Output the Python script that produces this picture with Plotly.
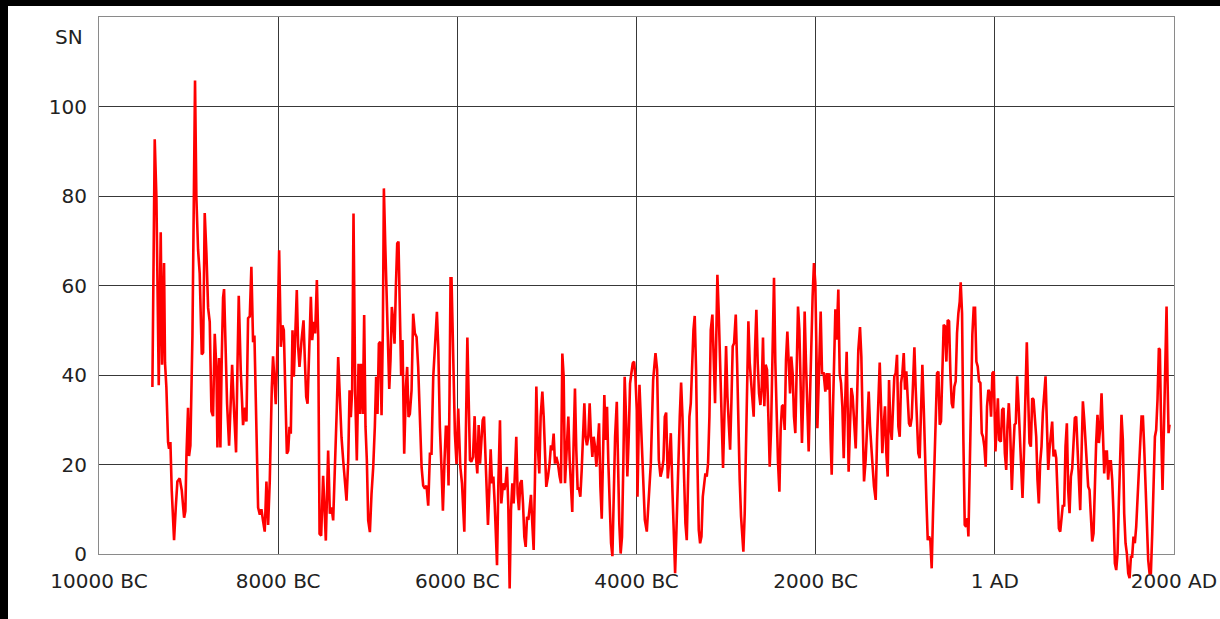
import plotly.graph_objects as go

# ---- data (year: negative = BC, SN = reconstructed sunspot number) ----
years_a = [-9404, -9378, -9359, -9341, -9333, -9311, -9296, -9274, -9263, -9248, -9229, -9218, -9203, -9188,
           -9162, -9143, -9125, -9099, -9076, -9050, -9036, -9024, -9006, -8995, -8980, -8957, -8939, -8928,
           -8913, -8894, -8876, -8853, -8838, -8820, -8801, -8782, -8764, -8745, -8727, -8708, -8689, -8678,
           -8660, -8645, -8630, -8615, -8604, -8585, -8570, -8548, -8529, -8514, -8496, -8470, -8455, -8440,
           -8418, -8392, -8369, -8354, -8336, -8317, -8299, -8280, -8265, -8243, -8224, -8205, -8187, -8168,
           -8150, -8131, -8112, -8094, -8083, -8071, -8057, -8042, -8027, -8012]
sn_a = [37.3, 92.7, 79.6, 56.5, 37.7, 71.9, 42.3, 65, 42.7, 37.3, 25, 23.5, 25, 14.2,
        3.1, 10.4, 16.2, 16.9, 14.2, 8.1, 9.6, 21.9, 32.7, 21.9, 24.2, 48.8, 79.6, 105.8,
        79.6, 68, 62.7, 44.6, 45, 76.2, 67.3, 55, 51.9, 31.9, 30.8, 49.2, 41.2, 23.8,
        43.8, 23.8, 43.5, 57.3, 59.2, 41.9, 33.5, 24.2, 37.3, 42.3, 33.5, 22.7, 41.2, 57.7,
        41.2, 28.8, 32.7, 29.6, 52.7, 53.1, 64.2, 47.3, 48.8, 29.6, 10.4, 8.8, 10, 7.3,
        5, 16.2, 6.5, 16.2, 31.2, 37.3, 44.2, 39.6, 33.5, 43.5]

years_b = [-7989, -7970, -7952, -7937, -7918, -7903, -7888, -7873, -7859, -7840, -7825, -7806, -7792, -7777,
           -7762, -7739, -7717, -7702, -7687, -7672, -7654, -7635, -7620, -7602, -7587, -7568, -7553, -7538,
           -7520, -7498, -7468, -7442, -7423, -7404, -7386, -7360, -7345, -7330, -7311, -7293, -7274, -7256,
           -7237, -7218, -7203, -7189, -7174, -7159, -7140, -7122, -7103, -7088, -7073, -7055, -7040, -7025,
           -7010, -6995, -6976, -6958, -6939, -6921, -6906, -6891, -6876, -6861, -6846, -6831, -6820, -6805,
           -6790, -6775, -6760, -6746, -6731, -6716, -6701, -6686, -6671, -6657, -6642, -6627, -6612, -6593,
           -6574, -6560, -6545, -6530, -6511, -6493, -6474, -6455, -6437, -6418, -6399, -6381, -6362, -6344,
           -6325, -6306, -6288, -6269, -6251, -6228, -6213, -6195, -6176, -6161, -6143, -6128, -6113, -6098,
           -6087, -6076, -6065, -6046, -6027, -6009, -5990]
sn_b = [67.9, 46.3, 51.1, 50, 35.8, 22.4, 23.1, 28.4, 26.9, 50, 39.6, 50, 59, 46.3,
        41.8, 47.8, 52.2, 43.3, 35.1, 33.6, 43.3, 57.5, 47.8, 51.9, 49.3, 61.2, 48.5, 4.5,
        4.1, 17.5, 3, 23.1, 9, 10.4, 7.5, 20.9, 32.8, 44, 32.8, 26.1, 20.9, 15.7,
        11.9, 20.9, 36.6, 30.6, 36.6, 76.1, 35.8, 20.9, 42.5, 31.3, 42.5, 31.3, 53.4, 28.4,
        20.9, 7.5, 4.9, 13.4, 19.4, 28.4, 39.6, 31.3, 47, 47.4, 31, 50.7, 81.7, 69.4,
        58.2, 49.3, 36.9, 43.3, 55.2, 52.2, 47, 59.7, 69.4, 69.8, 52.2, 39.9, 47.8, 22.4,
        37.3, 41.8, 30.6, 31.3, 36.6, 53.7, 49.3, 48.5, 41.8, 28.4, 19.4, 15.3, 14.6, 15.3,
        10.8, 22.4, 22.4, 39.6, 46.3, 54.1, 46.3, 28.4, 18.7, 9.7, 20.9, 28.4, 28.4, 15.3,
        35.8, 61.6, 61.6, 40.3, 26.9, 20.1, 32.5]

years_c = [-5967, -5948, -5922, -5907, -5888, -5873, -5859, -5844, -5825, -5807, -5792, -5777, -5762, -5747,
           -5732, -5717, -5702, -5687, -5673, -5658, -5643, -5628, -5613, -5598, -5583, -5568, -5557, -5542,
           -5524, -5509, -5490, -5476, -5461, -5446, -5431, -5416, -5401, -5386, -5371, -5356, -5342, -5327,
           -5312, -5297, -5282, -5267, -5252, -5237, -5222, -5207, -5192, -5178, -5163, -5148, -5133, -5118,
           -5103, -5085, -5070, -5051, -5036, -5022, -5007, -4988, -4970, -4955, -4940, -4925, -4910, -4895,
           -4877, -4858, -4843, -4828, -4813, -4798, -4780, -4761, -4746, -4731, -4717, -4702, -4687, -4672,
           -4657, -4642, -4627, -4612, -4597, -4582, -4568, -4553, -4538, -4523, -4508, -4493, -4478, -4463,
           -4448, -4433, -4418, -4403, -4388, -4374, -4359, -4344, -4329, -4314, -4299, -4284, -4269, -4254,
           -4239, -4220, -4206, -4192, -4177, -4162, -4147, -4132, -4117, -4102, -4087, -4072, -4057, -4042,
           -4027, -4012, -3997]
sn_c = [19.5, 15.8, 5, 23.2, 48.4, 34.4, 21, 20.6, 21.7, 30.8, 21.7, 18, 28.8, 20.2,
        24.7, 29.9, 30.7, 21.7, 14.3, 6.5, 14.3, 23.4, 15.8, 17.3, 11.3, 3.8, -2.5, 15.8,
        29.9, 11.3, 15.8, 14.3, 15.8, 19.5, 10.6, -7.7, 9.8, 15.8, 11.3, 18.7, 26.2, 13.5,
        9.8, 15.8, 16.5, 11.3, 3.8, 1.6, 8.3, 7.6, 10.6, 13.2, 6.8, 0.9, 17.3, 37.4,
        24.7, 18, 30.7, 36.3, 30.7, 20.2, 15, 17.3, 20.2, 24.3, 23.2, 26.9, 20.2, 21.7,
        20.2, 17.3, 15.8, 44.8, 39.6, 15.8, 22.5, 30.7, 21, 15.8, 9.4, 24.7, 37, 23.2,
        14.6, 14.6, 12.8, 18.7, 26.2, 33.7, 26.2, 24.3, 26.2, 33.7, 26.2, 21.7, 26.2, 24,
        19.5, 26.2, 29.2, 15, 7.9, 21.7, 35.5, 25.5, 32.9, 20.2, 8.3, 2.4, -0.5, 15.8,
        26.2, 34, 17.3, 6.8, 0.1, 3.8, 20.2, 39.6, 30.7, 17.3, 26.2, 38.1, 40.4, 42.6,
        43, 39.6, 32.2]

years_d = [-3989, -3967, -3937, -3907, -3885, -3862, -3840, -3814, -3788, -3770, -3751, -3732, -3714, -3699,
           -3684, -3669, -3651, -3636, -3617, -3599, -3580, -3569, -3554, -3535, -3517, -3502, -3487, -3468,
           -3454, -3439, -3424, -3409, -3394, -3379, -3364, -3350, -3335, -3320, -3305, -3290, -3275, -3260,
           -3245, -3231, -3216, -3201, -3186, -3171, -3153, -3138, -3123, -3108, -3097, -3082, -3067, -3052,
           -3034, -3019, -3000, -2985, -2970, -2955, -2941, -2926, -2911, -2892, -2877, -2863, -2848, -2833,
           -2818, -2807, -2792, -2777, -2762, -2751, -2736, -2721, -2706, -2692, -2677, -2662, -2647, -2632,
           -2617, -2602, -2588, -2573, -2558, -2543, -2528, -2513, -2498, -2483, -2465, -2450, -2435, -2420,
           -2405, -2391, -2376, -2361, -2346, -2331, -2316, -2301, -2286, -2272, -2257, -2242, -2227, -2212,
           -2197, -2182, -2167, -2153, -2138, -2123, -2108, -2093, -2078, -2063, -2049, -2034, -2019, -2004,
           -1989]
sn_d = [12.8, 37.8, 20.3, 7.6, 5, 11.7, 20.3, 38.9, 44.9, 41.2, 21, 17.3, 18.8, 21,
        30.7, 31.6, 16.9, 20.3, 27, 14.3, -0.6, -4.3, 5.4, 20.3, 30.7, 38.3, 30.7, 16.6,
        6.9, 3.1, 15.8, 30.7, 33.7, 44.1, 50.1, 53.2, 41.2, 20.3, 5.4, 2.4, 3.9, 12.8,
        16.6, 18, 17.3, 20.3, 30.7, 50.1, 53.5, 40.4, 33.7, 50.1, 62.4, 53.8, 41.2, 27.7,
        19.2, 30.7, 46.5, 35.2, 27.7, 23.3, 33.7, 46.4, 47.1, 53.5, 42.7, 27.7, 16.6, 8.4,
        2.4, 0.5, 9.1, 27.7, 42.7, 52, 42.7, 38.9, 34.5, 30.7, 45.6, 54.6, 42.7, 35.9,
        33.3, 37.3, 48.4, 33, 42.3, 41.2, 30.7, 19.5, 27.7, 42.7, 61.7, 42.7, 30.7, 20.3,
        13.9, 27.7, 33, 33.3, 27.7, 43.4, 49.7, 41.2, 35.9, 44.1, 40.4, 30.7, 27, 41.2,
        55.3, 50.1, 38.2, 24.8, 35.2, 54.2, 42.7, 30.7, 22.9, 35.2, 50.1, 57.6, 65, 60.6,
        42.7]

years_e = [-1981, -1963, -1944, -1929, -1911, -1892, -1877, -1862, -1847, -1833, -1821, -1806, -1792, -1780,
           -1766, -1747, -1732, -1717, -1702, -1687, -1672, -1654, -1643, -1632, -1617, -1602, -1587, -1572,
           -1553, -1538, -1524, -1505, -1490, -1479, -1460, -1442, -1427, -1408, -1393, -1378, -1364, -1349,
           -1330, -1315, -1300, -1285, -1270, -1256, -1241, -1226, -1211, -1196, -1181, -1166, -1151, -1136,
           -1122, -1107, -1092, -1077, -1062, -1047, -1032, -1017, -1003, -988, -973, -958, -943, -928,
           -913, -898, -883, -868, -854, -839, -824, -809, -794, -779, -764, -749, -735, -720,
           -705, -690, -675, -660, -645, -630, -615, -601, -586, -571, -556, -541, -526, -511,
           -496, -481, -467, -452, -437, -422, -407, -392, -381, -366, -351, -336, -321, -306,
           -295, -280, -266, -251, -236, -221, -206, -191, -176, -161, -146, -132, -117, -102,
           -87, -72, -57, -42, -27, -12]
sn_e = [28.1, 40.4, 54.2, 40.4, 40.4, 36.3, 40.4, 36.7, 40.4, 25.5, 17.7, 33, 47.9, 54.7,
        47.9, 59.1, 40.4, 38.2, 33, 21.4, 33, 45.2, 33, 18.4, 28.5, 37.1, 35.2, 28.5,
        23.6, 34.5, 45.6, 50.7, 44.1, 33, 16.2, 21, 28.5, 36.3, 28.5, 22.5, 19.5, 15.1,
        12.1, 25.5, 33, 42.8, 33, 22.5, 28.5, 33, 22.5, 17.3, 38.9, 28.5, 25.5, 33,
        39.7, 40.4, 44.5, 28.5, 26.2, 38.2, 40.4, 44.9, 36.7, 40.8, 35.9, 29.2, 28.5, 30.4,
        38.2, 46.2, 36.7, 28.5, 22.5, 21.4, 33, 42.3, 33, 19.5, 12.1, 3.1, 3.9, 3.1,
        -3.2, 9.1, 18.8, 28.5, 40.4, 40.8, 28.9, 29.6, 40.4, 51.2, 50.9, 43, 52.3, 52,
        40.4, 33.7, 32.6, 37.4, 38.6, 49.4, 53.8, 56.4, 60.7, 53.8, 25.5, 6.5, 6.1, 8,
        3.9, 21.8, 40.4, 49, 55, 55, 43, 41.9, 38.6, 38.2, 27, 26.2, 24, 19.5,
        33, 36.7, 35.9, 30.7, 40.4, 40.8]

years_f = [7, 19, 34, 48, 67, 82, 97, 112, 127, 141, 156, 171, 190, 205, 220, 234, 249, 264, 279, 294,
           309, 324, 339, 357, 372, 387, 402, 417, 432, 447, 462, 476, 491, 506, 521, 536, 551, 566, 581, 596,
           610, 625, 640, 655, 670, 685, 700, 715, 730, 744, 759, 774, 789, 804, 819, 834, 849, 864, 878, 893,
           908, 923, 938, 953, 968, 983, 998, 1012, 1027, 1042, 1057, 1072, 1087, 1102, 1117, 1131, 1146, 1161,
           1176, 1191, 1206, 1221, 1236, 1251, 1265, 1280, 1295, 1310, 1325, 1340, 1355, 1370, 1385, 1399,
           1414, 1429, 1444, 1459, 1474, 1489, 1504, 1519, 1533, 1548, 1563, 1578, 1593, 1608, 1623, 1638,
           1653, 1667, 1682, 1697, 1712, 1727, 1742, 1757, 1772, 1787, 1801, 1816, 1831, 1842, 1857, 1872,
           1887, 1902, 1917, 1928, 1939, 1950]
sn_f = [22.9, 30, 34.8, 25.5, 25.1, 32.2, 32.6, 22.5, 18.8, 28.5, 33.7, 27.7, 14.3, 22.5, 28.9, 29.2, 39.7, 33.7, 25.5, 18,
        12.5, 21.8, 35.2, 47.3, 35.2, 24.8, 24, 34.8, 34.5, 29.2, 26.2, 16.6, 11.3, 20.3, 24, 31.5, 35.6, 39.7, 29.2, 18.8,
        23.3, 27, 29.6, 21.8, 23.3, 21.4, 12.8, 5.7, 5, 7.6, 11, 10.6, 24, 29.2, 14.3, 9.1, 17.3, 19.2, 24, 30.4,
        30.7, 24, 16.6, 9.8, 22.5, 34.1, 30, 25.5, 21, 15.1, 14.3, 9.1, 2.8, 4.6, 16.6, 24.8, 31.1, 24.8,
        28.1, 35.9, 27.4, 18, 22.9, 22.9, 16.6, 20.7, 20.7, 16.6, 9.1, -2.1, -3.6, 0.1, 12.1, 24,
        31.1, 25.5, 9.1, 2.4, 0.1, -4.3, -5.4, -0.6, -0.6, 3.9, 2.4, 6.1, 13.6, 19.5, 24.8, 30.7,
        30.7, 24, 16.6, 7.6, -1.3, -4.3, -4.3, 4.6, 16.6, 26.2, 27.7, 34.5, 46, 45.6, 27.7, 14.3,
        27.7, 38.9, 55.3, 38.9, 27, 28.9]

years = years_a + years_b + years_c + years_d + years_e + years_f
sn = sn_a + sn_b + sn_c + sn_d + sn_e + sn_f

x_range = [-10000, 2000]
y_range = [0, 120]
x_tickvals = [-10000, -8000, -6000, -4000, -2000, 0, 2000]
x_ticktext = ["10000 BC", "8000 BC", "6000 BC", "4000 BC", "2000 BC", "1 AD", "2000 AD"]
y_tickvals = [0, 20, 40, 60, 80, 100]
y_ticktext = ["0", "20", "40", "60", "80", "100"]

FONT = "DejaVu Sans"
TXT = "#222222"

# geometry (figure pixels); page is offset by body margin 6px top / 8px left
W, H = 1212, 613
ML, MR, MT, MB = 91, 46, 11, 19
plot_h = H - MT - MB            # 583: union of both subplots
axis_h = 537                    # main axes height (0..120)
main_dom0 = (plot_h - axis_h) / plot_h
# the line layer extends below the 0 axis so dips under zero are not clipped
y2_low = y_range[0] - (plot_h - axis_h) * (y_range[1] - y_range[0]) / axis_h

fig = go.Figure()
# empty trace so the framed main subplot (x, y) is created
fig.add_trace(go.Scatter(x=[], y=[], xaxis="x", yaxis="y", mode="lines",
                         hoverinfo="skip", showlegend=False))
fig.add_trace(go.Scatter(
    x=years, y=sn, mode="lines", xaxis="x2", yaxis="y2",
    line=dict(color="#ff0000", width=2.6),
    hoverinfo="skip", showlegend=False,
))

axis_common = dict(
    showgrid=True, gridcolor="#383838", gridwidth=1,
    showline=True, linecolor="#8a8a8a", linewidth=1, mirror=True,
    ticks="", zeroline=False, automargin=False,
    tickfont=dict(family=FONT, size=20, color=TXT),
)

fig.update_layout(
    width=W, height=H,
    margin=dict(l=ML, r=MR, t=MT, b=MB, pad=0),
    paper_bgcolor="white", plot_bgcolor="rgba(0,0,0,0)",
    font=dict(family=FONT, size=20, color=TXT),
    showlegend=False,
    xaxis=dict(range=x_range, tickvals=x_tickvals, ticktext=x_ticktext,
               anchor="y", domain=[0, 1], ticklabelstandoff=9, **axis_common),
    yaxis=dict(range=y_range, tickvals=y_tickvals, ticktext=y_ticktext,
               anchor="x", domain=[main_dom0, 1], ticklabelstandoff=7, **axis_common),
    xaxis2=dict(range=x_range, domain=[0, 1], anchor="y2", visible=False,
                showgrid=False, automargin=False),
    yaxis2=dict(range=[y2_low, y_range[1]], domain=[0, 1], anchor="x2", visible=False,
                showgrid=False, automargin=False),
    annotations=[dict(
        text="SN", xref="paper", yref="paper",
        x=-14 / 1075, y=(583 - 20) / 583,
        xanchor="right", yanchor="middle", showarrow=False,
        font=dict(family=FONT, size=20, color=TXT),
    )],
)

fig.write_html(
    "out.html",
    post_script="document.body.style.margin='6px 0 0 8px';"
                "document.body.style.background='black';"
                "document.body.style.overflow='hidden';",
)
